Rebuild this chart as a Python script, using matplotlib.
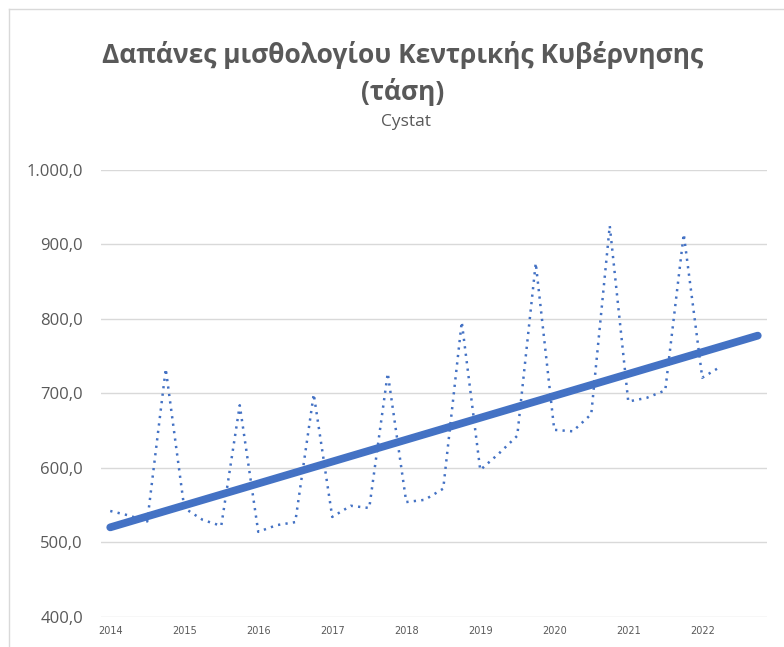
import numpy as np
import matplotlib
matplotlib.use("Agg")
import matplotlib.pyplot as plt
from matplotlib.ticker import FuncFormatter, FixedLocator
from matplotlib.lines import Line2D

# quarterly payroll expenditure, Q1 2014 .. Q2 2022 (million EUR)
quarters = ["2014Q1", "2014Q2", "2014Q3", "2014Q4",
            "2015Q1", "2015Q2", "2015Q3", "2015Q4",
            "2016Q1", "2016Q2", "2016Q3", "2016Q4",
            "2017Q1", "2017Q2", "2017Q3", "2017Q4",
            "2018Q1", "2018Q2", "2018Q3", "2018Q4",
            "2019Q1", "2019Q2", "2019Q3", "2019Q4",
            "2020Q1", "2020Q2", "2020Q3", "2020Q4",
            "2021Q1", "2021Q2", "2021Q3", "2021Q4",
            "2022Q1", "2022Q2"]
payroll = [542, 536, 528, 733,
           546, 530, 522, 684,
           514, 523, 527, 699,
           534, 549, 546, 727,
           554, 557, 572, 796,
           597, 619, 643, 875,
           651, 649, 672, 925,
           689, 694, 704, 914,
           721, 736]
forecast_ahead = 2  # trend extended two quarters past the data
year_labels = ["2014", "2015", "2016", "2017", "2018",
               "2019", "2020", "2021", "2022"]

BLUE = "#4472C4"
GREY = "#595959"
GRID = "#D9D9D9"

plt.rcParams["font.family"] = ["Open Sans", "DejaVu Sans"]

W, H = 784, 647
fig = plt.figure(figsize=(W / 100, H / 100), dpi=100)
fig.patch.set_facecolor("white")

# chart area border (left and top edges visible)
fig.add_artist(Line2D([9 / W, 9 / W], [0, 1 - 9 / H], transform=fig.transFigure,
                      color=GRID, lw=1))
fig.add_artist(Line2D([9 / W, 1], [1 - 9 / H, 1 - 9 / H], transform=fig.transFigure,
                      color=GRID, lw=1))

left, right = 101, 767
top, bottom = 170, 616.7
ax = fig.add_axes([left / W, 1 - bottom / H, (right - left) / W, (bottom - top) / H])

x = np.arange(len(payroll))
y = np.array(payroll, dtype=float)

# linear trend, as an Excel trendline with forward forecast
k, b = np.polyfit(x, y, 1)
xt = np.array([0, len(payroll) - 1 + forecast_ahead])
ax.plot(xt, k * xt + b, color=BLUE, lw=5.6, solid_capstyle="round", zorder=3)

ax.plot(x, y, color=BLUE, lw=1.8, linestyle=(0, (0.9, 2.1)),
        dash_capstyle="butt", zorder=4)

ax.set_xlim(-0.5, len(payroll) - 1 + forecast_ahead + 0.5)
ax.set_ylim(400, 1000)
ax.set_yticks(np.arange(400, 1001, 100))


def greek_fmt(v, pos):
    s = f"{v:,.1f}"
    return s.replace(",", "X").replace(".", ",").replace("X", ".")


ax.yaxis.set_major_formatter(FuncFormatter(greek_fmt))
ax.xaxis.set_major_locator(FixedLocator(np.arange(0, len(payroll), 4)))
ax.set_xticklabels(year_labels)

ax.grid(axis="y", color=GRID, lw=1.0)
ax.set_axisbelow(True)
for sp in ax.spines.values():
    sp.set_visible(False)

ax.tick_params(axis="y", length=0, pad=13, labelsize=12, labelcolor=GREY)
ax.tick_params(axis="x", length=0, pad=7, labelsize=7, labelcolor=GREY)
for lab in ax.get_xticklabels():
    lab.set_fontfamily(["Liberation Sans Narrow", "DejaVu Sans"])

fig.text(403 / W, 1 - 55 / H, "Δαπάνες μισθολογίου Κεντρικής Κυβέρνησης",
         ha="center", va="center", fontsize=19, fontweight="bold", color=GREY)
fig.text(403 / W, 1 - 92 / H, "(τάση)",
         ha="center", va="center", fontsize=19, fontweight="bold", color=GREY)
fig.text(406 / W, 1 - 122 / H, "Cystat",
         ha="center", va="center", fontsize=12.5, color=GREY)

fig.savefig("out.png", dpi=100, facecolor="white")
